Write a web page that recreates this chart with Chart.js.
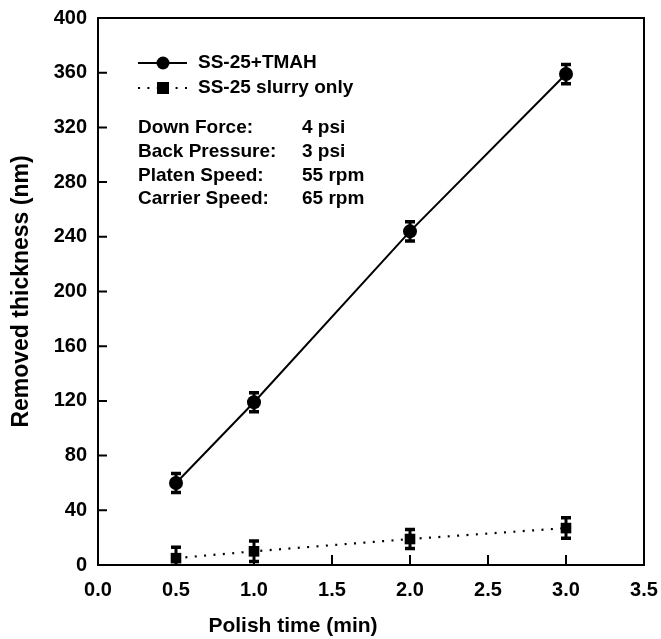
<!DOCTYPE html>
<html>
<head>
<meta charset="utf-8">
<script src="https://cdn.jsdelivr.net/npm/chart.js@4/dist/chart.umd.min.js"></script>
<style>
  html, body { margin: 0; padding: 0; background: #ffffff; }
  #wrap { width: 661px; height: 639px; }
</style>
</head>
<body>
<div id="wrap"><canvas id="chart" width="661" height="639"></canvas></div>
<script>
const fontFamily = '"Liberation Sans", Arial, Helvetica, sans-serif'

// polish time (min)
const times = [0.5, 1.0, 2.0, 3.0]
// removed thickness (nm)
const tmahValues = [60, 119, 244, 359]
const tmahErrors = [7, 7, 7, 7]
const slurryValues = [5, 10, 19, 27]
const slurryErrors = [8, 7.5, 7, 7.5]

const seriesLabels = ['SS-25+TMAH', 'SS-25 slurry only']
const conditionLabels = ['Down Force:', 'Back Pressure:', 'Platen Speed:', 'Carrier Speed:']
const conditionValues = ['4 psi', '3 psi', '55 rpm', '65 rpm']

const xTitle = 'Polish time (min)'
const yTitle = 'Removed thickness (nm)'

function toPoints (xs, ys) {
  return xs.map((x, i) => ({ x: x, y: ys[i] }))
}

// error bars, box, inward ticks, legend and conditions text
const decorations = {
  id: 'decorations',
  afterDatasetsDraw (chart) {
    const ctx = chart.ctx
    const xs = chart.scales.x
    const ys = chart.scales.y
    const area = chart.chartArea
    ctx.save()
    ctx.strokeStyle = '#000'
    ctx.fillStyle = '#000'

    // error bars
    const errs = [tmahErrors, slurryErrors]
    chart.data.datasets.forEach((ds, di) => {
      ds.data.forEach((p, i) => {
        const px = xs.getPixelForValue(p.x)
        const top = ys.getPixelForValue(p.y + errs[di][i])
        const bot = ys.getPixelForValue(Math.max(p.y - errs[di][i], ys.min))
        ctx.lineWidth = 3
        ctx.beginPath()
        ctx.moveTo(px, top)
        ctx.lineTo(px, bot)
        ctx.stroke()
        ctx.lineWidth = 3.5
        ctx.beginPath()
        ctx.moveTo(px - 5, top)
        ctx.lineTo(px + 5, top)
        if (p.y - errs[di][i] >= ys.min) {
          ctx.moveTo(px - 5, bot)
          ctx.lineTo(px + 5, bot)
        }
        ctx.stroke()
      })
    })

    // frame
    ctx.lineWidth = 2
    ctx.strokeRect(area.left, area.top, area.right - area.left, area.bottom - area.top)

    // inward ticks
    ctx.lineWidth = 2
    ctx.beginPath()
    ys.ticks.forEach(t => {
      if (t.value <= ys.min || t.value >= ys.max) return
      const py = ys.getPixelForValue(t.value)
      ctx.moveTo(area.left, py)
      ctx.lineTo(area.left + 9, py)
    })
    xs.ticks.forEach(t => {
      if (t.value <= xs.min || t.value >= xs.max) return
      const px = xs.getPixelForValue(t.value)
      ctx.moveTo(px, area.bottom)
      ctx.lineTo(px, area.bottom - 10)
    })
    ctx.stroke()

    // legend
    const lx = area.left + 40
    const ly = [area.top + 45, area.top + 70]
    ctx.font = 'bold 19px ' + fontFamily
    ctx.textBaseline = 'middle'
    ctx.textAlign = 'left'
    chart.data.datasets.forEach((ds, i) => {
      ctx.save()
      ctx.lineWidth = 2
      ctx.setLineDash(ds.borderDash || [])
      ctx.beginPath()
      ctx.moveTo(lx, ly[i])
      ctx.lineTo(lx + 49, ly[i])
      ctx.stroke()
      ctx.restore()
      if (ds.pointStyle === 'circle') {
        ctx.beginPath()
        ctx.arc(lx + 25, ly[i], 6.5, 0, Math.PI * 2)
        ctx.fill()
      } else {
        ctx.fillRect(lx + 19, ly[i] - 6, 12, 12)
      }
      ctx.fillText(seriesLabels[i], lx + 60, ly[i])
    })

    // conditions
    ctx.font = 'bold 19px ' + fontFamily
    conditionLabels.forEach((s, i) => {
      const y = area.top + 110 + i * 23.7
      ctx.fillText(s, lx, y)
      ctx.fillText(conditionValues[i], lx + 164, y)
    })

    // x title
    ctx.font = 'bold 21px ' + fontFamily
    ctx.textAlign = 'center'
    ctx.fillText(xTitle, xs.getPixelForValue(1.25), area.bottom + 61)
    ctx.restore()
  }
}

const chart = new Chart(document.getElementById('chart'), {
  type: 'line',
  data: {
    datasets: [{
      label: seriesLabels[0],
      data: toPoints(times, tmahValues),
      borderColor: '#000',
      backgroundColor: '#000',
      borderWidth: 2,
      pointStyle: 'circle',
      pointRadius: 7,
      pointBorderWidth: 0
    }, {
      label: seriesLabels[1],
      data: toPoints(times, slurryValues),
      borderColor: '#000',
      backgroundColor: '#000',
      borderWidth: 2.2,
      borderDash: [2, 7.4],
      pointStyle: 'rect',
      pointRadius: 7.5,
      pointBorderWidth: 0
    }]
  },
  options: {
    responsive: false,
    animation: false,
    layout: { padding: { top: 18, right: 17, left: 0, bottom: 0 } },
    plugins: {
      legend: { display: false },
      tooltip: { enabled: false }
    },
    scales: {
      x: {
        type: 'linear',
        min: 0,
        max: 3.5,
        afterFit: s => { s.height = 74; s.paddingLeft = 0; s.paddingRight = 0 },
        grid: { display: false, drawTicks: false },
        border: { display: false },
        ticks: {
          stepSize: 0.5,
          color: '#000',
          padding: 13,
          font: { family: fontFamily, size: 20, weight: 'bold' },
          callback: v => v.toFixed(1)
        }
      },
      y: {
        min: 0,
        max: 400,
        afterFit: s => { s.width = 98; s.paddingTop = 0; s.paddingBottom = 0 },
        grid: { display: false, drawTicks: false },
        border: { display: false },
        title: {
          display: true,
          text: yTitle,
          color: '#000',
          padding: { top: 8, bottom: 4 },
          font: { family: fontFamily, size: 23, weight: 'bold' }
        },
        ticks: {
          stepSize: 40,
          color: '#000',
          padding: 11,
          font: { family: fontFamily, size: 20, weight: 'bold' }
        }
      }
    }
  },
  plugins: [decorations]
})
</script>
</body>
</html>
